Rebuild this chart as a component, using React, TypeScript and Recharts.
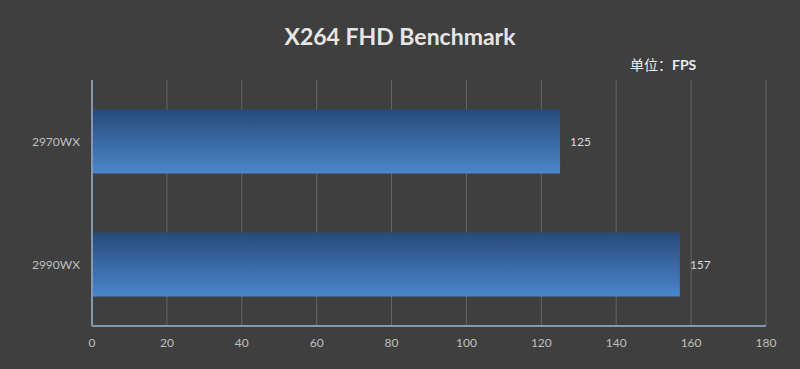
import React from 'react';
import { BarChart, Bar, XAxis, YAxis, CartesianGrid, LabelList } from 'recharts';

const cpus = ['2970WX', '2990WX'];
const fps = [125, 157];
const xTicks = [0, 20, 40, 60, 80, 100, 120, 140, 160, 180];

const data = cpus.map((name, i) => ({ name, fps: fps[i] }));

const font = 'Lato, "Open Sans", "Noto Sans", sans-serif';

const App: React.FC = () => {
  return (
    <div style={{ position: 'absolute', left: 0, top: 0, width: 800, height: 369, background: '#3f3f3f', fontFamily: font }}>
      <div style={{ position: 'absolute', left: 0, width: 800, top: 22, textAlign: 'center', color: '#e6e6e6', fontSize: 23, fontWeight: 'bold' }}>
        X264 FHD Benchmark
      </div>
      <div style={{ position: 'absolute', left: 630, top: 54, color: '#ececec', fontSize: 14, fontWeight: 'bold', whiteSpace: 'nowrap' }}>
        <span style={{ fontFamily: '"Noto Sans CJK SC"', fontWeight: 'normal' }}>单位：</span>FPS
      </div>
      <BarChart
        width={800}
        height={369}
        data={data}
        layout="vertical"
        margin={{ top: 80, right: 34, left: 0, bottom: 13 }}
        barCategoryGap="24%"
      >
        <defs>
          <linearGradient id="barFill" x1="0" y1="0" x2="0" y2="1">
            <stop offset="0%" stopColor="#284a7a" />
            <stop offset="100%" stopColor="#4a86cc" />
          </linearGradient>
        </defs>
        <CartesianGrid horizontal={false} stroke="#666666" strokeWidth={1} />
        <XAxis
          type="number"
          domain={[0, 180]}
          ticks={xTicks}
          interval={0}
          height={30}
          tickSize={0}
          tickMargin={12}
          tick={{ fill: '#bfbfbf', fontSize: 12, fontFamily: font }}
          axisLine={{ stroke: '#8497b0', strokeWidth: 2 }}
        />
        <YAxis
          type="category"
          dataKey="name"
          width={92}
          tickSize={0}
          tickMargin={12}
          tick={{ fill: '#bfbfbf', fontSize: 12, fontFamily: font }}
          axisLine={{ stroke: '#8497b0', strokeWidth: 2 }}
        />
        <Bar dataKey="fps" fill="url(#barFill)" isAnimationActive={false}>
          <LabelList dataKey="fps" position="right" offset={10} fill="#d9d9d9" fontSize={12} fontFamily={font} />
        </Bar>
      </BarChart>
    </div>
  );
};

export default App;
